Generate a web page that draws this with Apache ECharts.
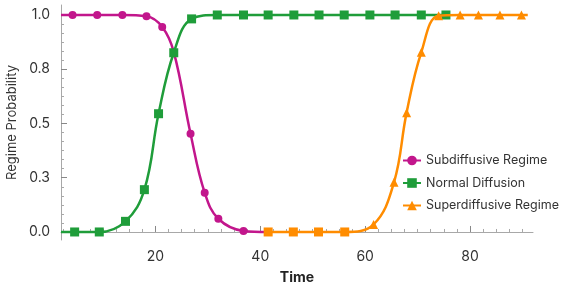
<!DOCTYPE html>
<html>
<head>
<meta charset="utf-8">
<script src="https://cdn.jsdelivr.net/npm/echarts@6/dist/echarts.min.js"></script>
<style>
  html, body { margin: 0; padding: 0; background: #fff; }
  #main { width: 567px; height: 286px; }
</style>
</head>
<body>
<div id="main"></div>
<script>
const chart = echarts.init(document.querySelector("#main"));

// data: [time, probability, marker]
const subTime = [2, 4.2, 8.9, 13.7, 18.3, 21.3, 23.5, 26.7, 29.4, 32, 36.8, 41.5];
const subProb = [1, 1, 1, 1, 0.994, 0.945, 0.83, 0.453, 0.181, 0.061, 0.005, 0];
const subMark = ["none", "circle", "circle", "circle", "circle", "circle", "none", "circle", "circle", "circle", "circle", "circle"];

const normTime = [2, 4.6, 9.3, 14.3, 17.9, 20.6, 23.5, 26.9, 31.8, 36.8, 41.5, 46.4, 51.2, 56, 60.9, 65.7, 70.7, 75.4];
const normProb = [0, 0, 0, 0.049, 0.195, 0.545, 0.826, 0.982, 1, 1, 1, 1, 1, 1, 1, 1, 1, 1];

const superTime = [41.5, 46.3, 51.1, 56.1, 61.6, 65.5, 67.9, 70.7, 74, 78.1, 81.6, 85.7, 89.8, 91];
const superProb = [0, 0, 0, 0, 0.035, 0.229, 0.55, 0.828, 0.997, 1, 1, 1, 1, 1];
const superMark = ["rect", "rect", "rect", "rect", "triangle", "triangle", "triangle", "triangle", "triangle", "triangle", "triangle", "triangle", "triangle", "none"];

const xTicks = [20, 40, 60, 80];
const yTicks = [0, 0.25, 0.5, 0.75, 1];

const font = "Inter, 'Noto Sans', sans-serif";
const axisGray = "#a8a8a8";

let xMinor = [];
for (let v = 2.5; v < 92; v += 2.5) {
    if (v % 20 !== 0) xMinor.push(v);
}
let yMinor = [];
for (let i = 0; i <= 24; i++) {
    if (i % 6 !== 0) yMinor.push(i / 24);
}

function build(times, probs, marks, defMark) {
    return times.map((t, i) => {
        let item = { value: [t, probs[i]] };
        let m = marks ? marks[i] : defMark;
        if (t === 2) m = "none";
        item.symbol = m;
        return item;
    });
}

let option = {
    animation: false,
    grid: { left: 61, right: 34, top: 5, bottom: 46, containLabel: false, outerBoundsMode: "none" },
    legend: {
        orient: "vertical",
        left: 397,
        top: 149,
        itemWidth: 18,
        itemHeight: 12,
        itemGap: 9.5,
        textStyle: { fontFamily: font, fontSize: 12.5, color: "#333" },
        data: ["Subdiffusive Regime", "Normal Diffusion", "Superdiffusive Regime"],
    },
    xAxis: [
        {
            type: "value",
            min: 2,
            max: 92,
            name: "Time",
            nameLocation: "middle",
            nameGap: 31,
            nameTextStyle: { fontFamily: font, fontSize: 14, fontWeight: "bold", color: "#222" },
            splitLine: { show: false },
            axisLine: { lineStyle: { color: axisGray } },
            axisTick: { inside: true, length: 6, customValues: xTicks, lineStyle: { color: "#888" } },
            axisLabel: { customValues: xTicks, margin: 10, fontFamily: font, fontSize: 14, color: "#333" },
        },
        {
            type: "value",
            min: 2,
            max: 92,
            position: "bottom",
            splitLine: { show: false },
            axisLine: { show: false },
            axisTick: { inside: true, length: 3, customValues: xMinor, lineStyle: { color: axisGray } },
            axisLabel: { show: false },
        },
    ],
    yAxis: [
        {
            type: "value",
            min: -0.037,
            max: 1.046,
            name: "Regime Probability",
            nameLocation: "middle",
            nameGap: 41,
            nameTextStyle: { fontFamily: font, fontSize: 13, color: "#333" },
            splitLine: { show: false },
            axisLine: { show: true, lineStyle: { color: axisGray } },
            axisTick: { show: true, inside: true, length: 6, customValues: yTicks, lineStyle: { color: "#888" } },
            axisLabel: {
                customValues: yTicks,
                margin: 11,
                fontFamily: font,
                fontSize: 14,
                color: "#333",
                formatter: (v) => v.toFixed(1),
            },
        },
        {
            type: "value",
            min: -0.037,
            max: 1.046,
            position: "left",
            splitLine: { show: false },
            axisLine: { show: false },
            axisTick: { show: true, inside: true, length: 3, customValues: yMinor, lineStyle: { color: axisGray } },
            axisLabel: { show: false },
        },
    ],
    series: [
        {
            name: "Subdiffusive Regime",
            type: "line",
            smooth: 0.4,
            symbol: "circle",
            symbolSize: 8,
            lineStyle: { width: 2.5, color: "#c2168c" },
            itemStyle: { color: "#c2168c" },
            data: build(subTime, subProb, subMark),
            z: 2,
        },
        {
            name: "Normal Diffusion",
            type: "line",
            smooth: 0.4,
            symbol: "rect",
            symbolSize: 9,
            lineStyle: { width: 2.5, color: "#1f9d3a" },
            itemStyle: { color: "#1f9d3a" },
            data: build(normTime, normProb, null, "rect"),
            z: 3,
        },
        {
            name: "Superdiffusive Regime",
            type: "line",
            smooth: 0.4,
            symbol: "triangle",
            symbolSize: 9,
            lineStyle: { width: 2.5, color: "#ff8c00" },
            itemStyle: { color: "#ff8c00" },
            data: build(superTime, superProb, superMark),
            z: 4,
        },
    ],
};
chart.setOption(option);
</script>
</body>
</html>
